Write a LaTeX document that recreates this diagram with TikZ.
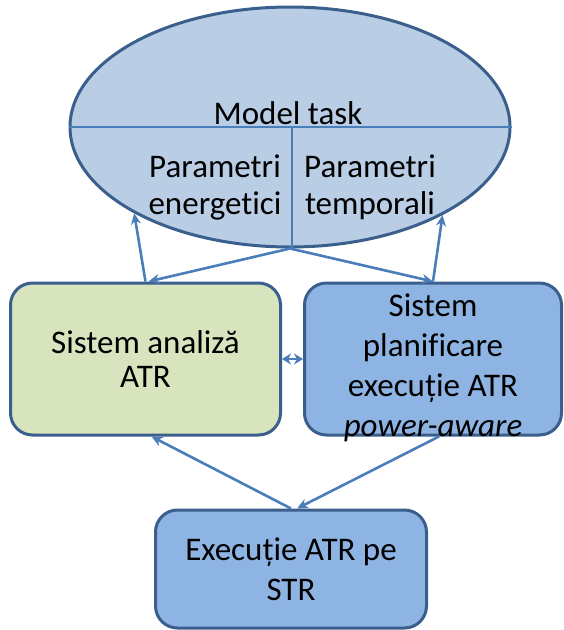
\documentclass[tikz,border=0pt]{standalone}
\usepackage{fontspec}
\setmainfont{Carlito}[Ligatures=NoCommon]
\usepackage{tikz}
\usetikzlibrary{shapes.geometric, arrows.meta, positioning}
\definecolor{ellfill}{HTML}{B9CDE5}
\definecolor{edgeblue}{HTML}{3A5F8C}
\definecolor{linkblue}{HTML}{4A7EBB}
\definecolor{greenfill}{HTML}{D7E4BD}
\definecolor{bluefill}{HTML}{8EB4E3}

\begin{document}
\begin{tikzpicture}[
    x=1pt, y=-1pt,
    box/.style={rectangle, rounded corners=22pt, draw=edgeblue, line width=3pt,
                fill=#1, minimum height=152pt, align=center},
    arrow/.style={-{Stealth[length=11pt, width=10pt]}, line width=2.6pt, color=linkblue},
    txt/.style={font=\fontsize{33}{#1}\selectfont, align=center, inner sep=0pt}
]
\useasboundingbox (0,0) rectangle (563,630);

% Model task
\node[ellipse, draw=edgeblue, line width=3pt, fill=ellfill, inner sep=0pt,
      minimum width=440pt, minimum height=240pt] (model) at (290,127) {};
\draw[linkblue, line width=2.2pt] (model.west) -- (model.east);
\draw[linkblue, line width=2.2pt] ([xshift=2pt]model.center) -- ([xshift=2pt]model.south);
\node[txt=30] (title) at (288,113) {Model task};
\node[txt=37] (penerg) at (215,187) {Parametri\\energetici};
\node[txt=37] (ptemp) at (370,187) {Parametri\\temporali};

% Systems
\node[box=greenfill, minimum width=270pt, below left=33pt and 8pt of model.south,
      txt=34] (lsys) {Sistem analiză\\ATR};
\node[box=bluefill, minimum width=257pt, right=21pt of lsys] (rsys) {};
\node[txt=40] (rtext) at ([yshift=-9pt]rsys.center)
     {Sistem\\planificare\\execuție ATR\\\textit{power-aware}};

% Execution
\node[box=bluefill, minimum width=271pt, minimum height=118pt, txt=40]
     (exec) at (291,569) {Execuție ATR pe\\STR};

% Arrows
\draw[arrow] (model.south) -- ([xshift=3pt]lsys.north);
\draw[arrow] (model.south) -- (rsys.north);
\draw[arrow] (lsys.north) -- (model.209);
\draw[arrow] (rsys.north) -- (model.330);
\draw[arrow] (exec.north) -- ([xshift=6pt]lsys.south);
\draw[arrow] ([xshift=6pt]rsys.south) -- ([xshift=6pt]exec.north);
\draw[{Stealth[length=9pt, width=11pt]}-{Stealth[length=9pt, width=11pt]}, line width=2.4pt, linkblue]
     (lsys.east) -- (rsys.west);

\end{tikzpicture}
\end{document}
